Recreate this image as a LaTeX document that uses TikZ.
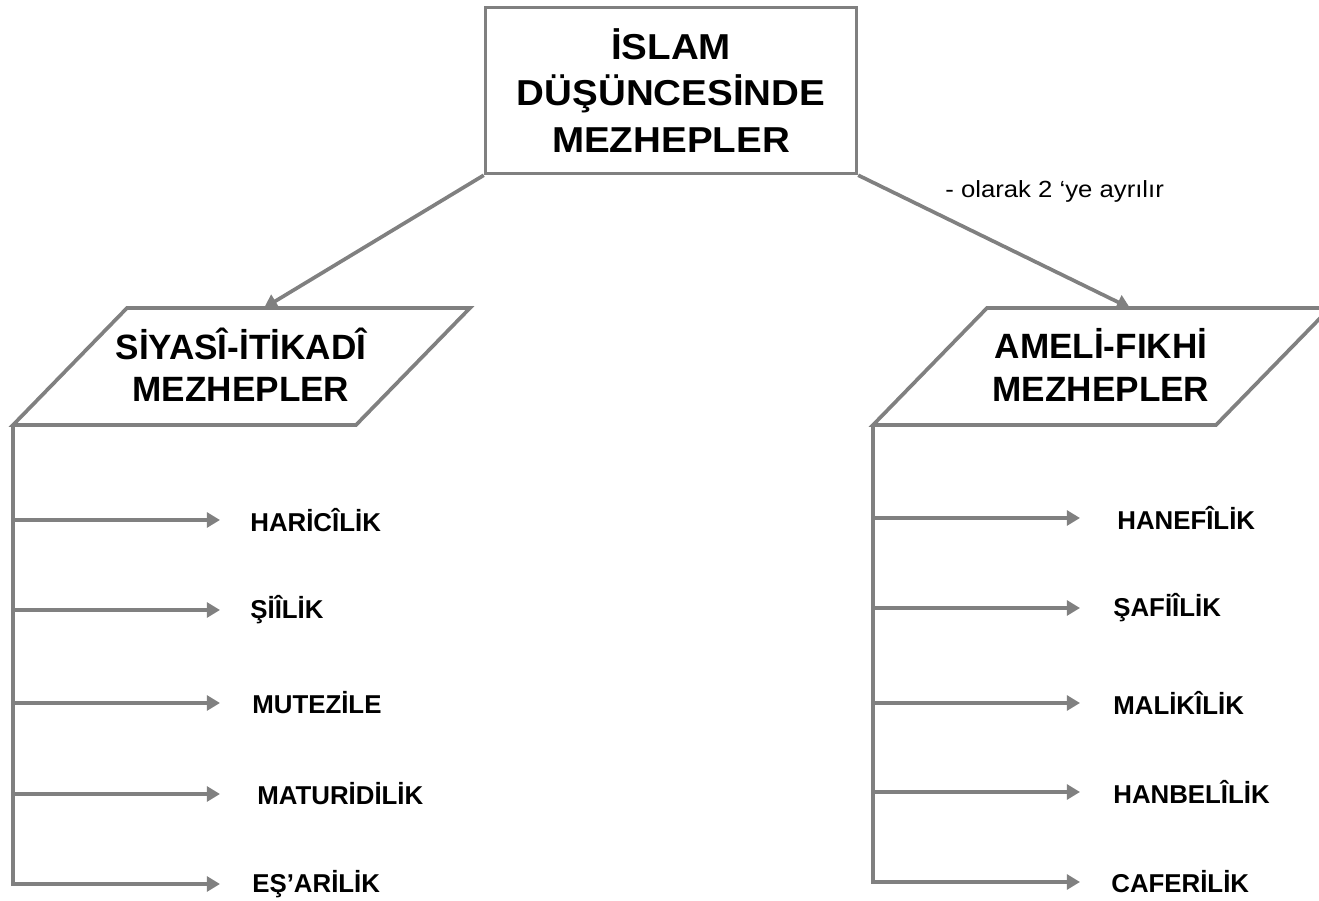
\documentclass[tikz,border=0pt]{standalone}
\usepackage{fontspec}
\setmainfont{Liberation Sans}
\newfontfamily\widesans[FakeStretch=1.07]{Liberation Sans}
\newfontfamily\notesans[FakeStretch=1.1]{Liberation Sans}
\usetikzlibrary{arrows.meta}
\definecolor{linegray}{RGB}{128,128,128}
\tikzset{
    link/.style={draw=linegray, line width=2.1pt},
    arrowlink/.style={link, -{Triangle[length=7.5pt,width=8.5pt]}},
    group/.style={align=center, inner sep=0pt, font=\bfseries\fontsize{20}{24}\selectfont},
    item/.style={anchor=west, inner sep=0pt, font=\bfseries\fontsize{14.7}{17}\selectfont},
    note/.style={anchor=base west, inner sep=0pt, font=\notesans\fontsize{13.3}{15}\selectfont}
}

\begin{document}
\begin{tikzpicture}[x=0.02cm, y=-0.02cm]
    \useasboundingbox (0,0) rectangle (1319,901);

    \node[draw=linegray, line width=2pt, minimum width=7.42cm, minimum height=3.32cm, inner sep=0pt, align=center, font=\widesans\bfseries\fontsize{20.5}{26.5}\selectfont] (main) at (671,90.5) {İSLAM\\DÜŞÜNCESİNDE\\MEZHEPLER};
    \node[note] (olarak) at (945,198) {- olarak 2 ‘ye ayrılır};

    \draw[link, line join=miter] (13,425) coordinate (siyasiBL) -- (127,308) -- (470,308) -- (356,425) -- cycle;
    \node[group] (siyasi) at (241,365) {SİYASÎ-İTİKADÎ\\MEZHEPLER};
    \coordinate (siyasiTop) at (264,308);

    \draw[link, line join=miter] (873,425) coordinate (ameliBL) -- (987,308) -- (1330,308) -- (1216,425) -- cycle;
    \node[group] (ameli) at (1101,365) {AMELİ-FIKHİ\\MEZHEPLER};
    \coordinate (ameliTop) at (1130,308);

    \draw[arrowlink] (main.south west) -- (siyasiTop);
    \draw[arrowlink] (main.south east) -- (ameliTop);

    \coordinate (tipL) at (220,0);
    \coordinate (tipR) at (1080,0);

    \node[item] (haricilik) at (250,520) {HARİCÎLİK};
    \node[item] (siilik) at (250,610) {ŞİÎLİK};
    \node[item] (mutezile) at (252,703) {MUTEZİLE};
    \node[item] (maturidilik) at (257,794) {MATURİDİLİK};
    \node[item] (esarilik) at (252,884) {EŞ’ARİLİK};

    \draw[arrowlink] (siyasiBL) |- (tipL |- esarilik.west);
    \draw[arrowlink] (siyasiBL |- haricilik.west) -- (tipL |- haricilik.west);
    \draw[arrowlink] (siyasiBL |- siilik.west) -- (tipL |- siilik.west);
    \draw[arrowlink] (siyasiBL |- mutezile.west) -- (tipL |- mutezile.west);
    \draw[arrowlink] (siyasiBL |- maturidilik.west) -- (tipL |- maturidilik.west);

    \node[item] (hanefilik) at (1117,518) {HANEFÎLİK};
    \node[item] (safiilik) at (1113,608) {ŞAFİÎLİK};
    \node[item] (malikilik) at (1113,703) {MALİKÎLİK};
    \node[item] (hanbelilik) at (1113,792) {HANBELÎLİK};
    \node[item] (caferilik) at (1111,882) {CAFERİLİK};

    \draw[arrowlink] (ameliBL) |- (tipR |- caferilik.west);
    \draw[arrowlink] (ameliBL |- hanefilik.west) -- (tipR |- hanefilik.west);
    \draw[arrowlink] (ameliBL |- safiilik.west) -- (tipR |- safiilik.west);
    \draw[arrowlink] (ameliBL |- malikilik.west) -- (tipR |- malikilik.west);
    \draw[arrowlink] (ameliBL |- hanbelilik.west) -- (tipR |- hanbelilik.west);

\end{tikzpicture}
\end{document}
